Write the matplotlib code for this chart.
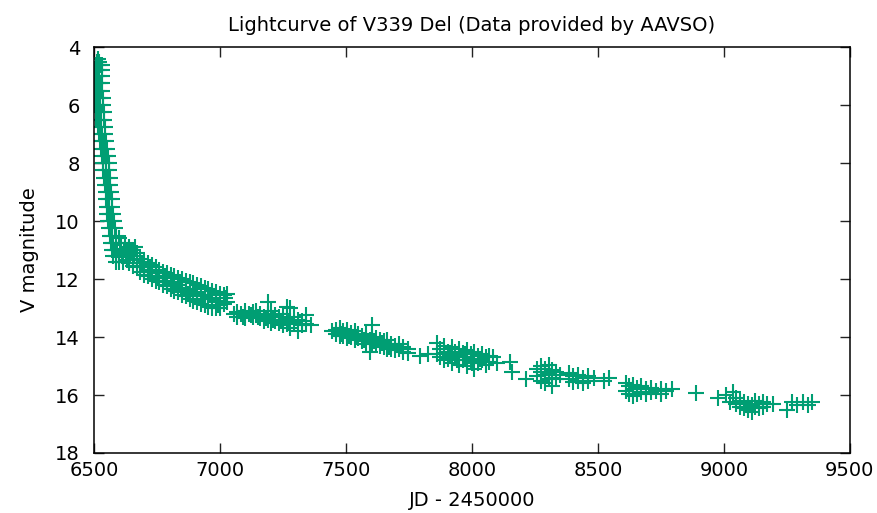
import numpy as np
import matplotlib
matplotlib.use("Agg")
import matplotlib.pyplot as plt

# --- data (JD - 2450000, V mag) ---
# fast decline after the peak
decline = [
    (6516, 4.4), (6512, 4.5), (6522, 4.5),
    (6508, 4.6), (6516, 4.6), (6524, 4.6), (6532, 4.6),
    (6506, 4.8), (6514, 4.8), (6522, 4.8), (6532, 4.8),
    (6506, 5.0), (6514, 5.0), (6522, 5.0), (6532, 5.0),
    (6508, 5.25), (6516, 5.25), (6524, 5.25), (6534, 5.25),
    (6506, 5.5), (6514, 5.5), (6522, 5.5), (6534, 5.5),
    (6507, 5.75), (6515, 5.75), (6523, 5.75), (6536, 5.75),
    (6506, 6.0), (6514, 6.0), (6524, 6.0), (6538, 6.0),
    (6508, 6.25), (6516, 6.25), (6528, 6.25), (6540, 6.25),
    (6510, 6.5), (6520, 6.5), (6530, 6.5), (6542, 6.5),
    (6516, 6.75), (6528, 6.75), (6544, 6.75),
    (6520, 7.0), (6532, 7.0), (6546, 7.0),
    (6526, 7.25), (6538, 7.25), (6550, 7.25),
    (6530, 7.5), (6542, 7.5), (6554, 7.5),
    (6534, 7.75), (6546, 7.75), (6558, 7.75),
    (6536, 8.0), (6548, 8.0), (6560, 8.0),
    (6538, 8.25), (6550, 8.25), (6562, 8.25),
    (6541, 8.5), (6552, 8.5), (6564, 8.5),
    (6544, 8.75), (6555, 8.75), (6566, 8.75),
    (6547, 9.0), (6558, 9.0), (6569, 9.0),
    (6549, 9.25), (6560, 9.25), (6571, 9.25),
    (6551, 9.5), (6562, 9.5), (6574, 9.5),
    (6553, 9.75), (6565, 9.75), (6577, 9.75),
    (6556, 10.0), (6568, 10.0), (6580, 10.0),
    (6559, 10.25), (6571, 10.25), (6583, 10.25),
    (6563, 10.5), (6574, 10.5), (6586, 10.5), (6600, 10.6),
    (6568, 10.75), (6578, 10.75), (6588, 10.75), (6606, 10.75), (6625, 10.75),
    (6572, 11.0), (6582, 11.0), (6592, 11.0), (6604, 11.0), (6618, 11.0),
    (6632, 11.0), (6648, 11.0), (6662, 10.9),
    (6578, 11.2), (6588, 11.2), (6598, 11.2), (6612, 11.2), (6626, 11.2),
    (6640, 11.2), (6660, 11.2),
    (6586, 11.4), (6600, 11.4), (6615, 11.4), (6630, 11.35),
]

# first season after the plateau
season1 = [
    (6640, 10.9), (6640, 11.2), (6640, 11.45),
    (6655, 11.0), (6655, 11.3), (6655, 11.55),
    (6670, 11.1), (6670, 11.35), (6670, 11.6),
    (6685, 11.3), (6685, 11.55), (6685, 11.75),
    (6700, 11.4), (6700, 11.6), (6700, 11.85),
    (6715, 11.45), (6715, 11.7), (6715, 11.9),
    (6730, 11.5), (6730, 11.75), (6730, 12.0),
    (6745, 11.6), (6745, 11.8), (6745, 12.05),
    (6760, 11.7), (6760, 11.9), (6760, 12.1),
    (6775, 11.75), (6775, 11.95), (6775, 12.2),
    (6790, 11.8), (6790, 12.05), (6790, 12.25),
    (6805, 11.85), (6805, 12.1), (6805, 12.35),
    (6820, 11.9), (6820, 12.15), (6820, 12.4),
    (6835, 11.95), (6835, 12.2), (6835, 12.45),
    (6850, 12.0), (6850, 12.3), (6850, 12.55),
    (6865, 12.05), (6865, 12.35), (6865, 12.6),
    (6880, 12.1), (6880, 12.4), (6880, 12.7),
    (6895, 12.15), (6895, 12.45), (6895, 12.75),
    (6910, 12.2), (6910, 12.5), (6910, 12.8),
    (6925, 12.25), (6925, 12.55), (6925, 12.85),
    (6940, 12.3), (6940, 12.6), (6940, 12.9),
    (6955, 12.35), (6955, 12.65), (6955, 12.95),
    (6970, 12.4), (6970, 12.7), (6970, 13.0),
    (6985, 12.45), (6985, 12.75), (6985, 13.0),
    (7000, 12.5), (7000, 12.8), (7000, 13.0),
    (7015, 12.55), (7015, 12.85),
    (7030, 12.5), (7030, 12.8),
    (6692, 11.45), (6722, 11.6), (6752, 11.95), (6782, 11.9),
    (6812, 12.25), (6842, 12.1), (6872, 12.5), (6902, 12.35),
    (6932, 12.7), (6962, 12.55), (6992, 12.9), (7022, 12.65),
]

season2 = [
    (7055, 13.2), (7070, 13.15), (7070, 13.3), (7085, 13.2),
    (7100, 13.1), (7100, 13.25), (7100, 13.35), (7115, 13.2),
    (7130, 13.15), (7130, 13.3), (7145, 13.1), (7145, 13.25),
    (7160, 13.2), (7160, 13.35), (7175, 13.3), (7175, 13.45),
    (7190, 12.8), (7190, 13.2), (7190, 13.4),
    (7205, 13.1), (7205, 13.3), (7205, 13.5),
    (7220, 13.25), (7220, 13.45), (7235, 13.3), (7235, 13.5),
    (7250, 13.2), (7250, 13.4), (7250, 13.6),
    (7265, 12.95), (7265, 13.35), (7265, 13.55),
    (7280, 13.0), (7280, 13.45), (7280, 13.7),
    (7295, 13.3), (7295, 13.5), (7310, 13.4), (7310, 13.8),
    (7325, 13.45), (7325, 13.6), (7340, 13.25), (7340, 13.55),
    (7360, 13.6), (7092, 13.3), (7122, 13.25), (7152, 13.3),
    (7182, 13.35), (7212, 13.4), (7242, 13.45), (7272, 13.5),
]

season3 = [
    (7445, 13.8), (7460, 13.75), (7460, 13.9),
    (7475, 13.7), (7475, 13.85), (7475, 13.95),
    (7490, 13.8), (7490, 13.95),
    (7505, 13.75), (7505, 13.9), (7505, 14.05),
    (7520, 13.85), (7520, 14.0),
    (7535, 13.8), (7535, 13.95), (7535, 14.1),
    (7550, 13.9), (7550, 14.05), (7565, 13.95), (7565, 14.15),
    (7580, 13.9), (7580, 14.05), (7580, 14.25),
    (7595, 14.1), (7595, 14.5),
    (7605, 13.6), (7605, 14.0), (7605, 14.2),
    (7620, 14.05), (7620, 14.25), (7635, 14.1), (7635, 14.3),
    (7650, 14.15), (7650, 14.35),
    (7665, 14.1), (7665, 14.3), (7665, 14.4),
    (7680, 14.25), (7680, 14.4), (7695, 14.3), (7695, 14.45),
    (7710, 14.25), (7710, 14.4), (7725, 14.35), (7725, 14.5),
    (7745, 14.4), (7745, 14.55),
    (7795, 14.65), (7825, 14.6),
    (7483, 13.9), (7512, 13.95), (7543, 14.0), (7572, 14.1),
    (7612, 14.15), (7642, 14.2), (7672, 14.35),
]

season4 = [
    (7860, 14.2), (7860, 14.6), (7875, 14.4), (7875, 14.7),
    (7890, 14.3), (7890, 14.55), (7890, 14.8),
    (7905, 14.5), (7905, 14.75),
    (7920, 14.35), (7920, 14.6), (7920, 14.9),
    (7935, 14.5), (7935, 14.7),
    (7950, 14.4), (7950, 14.65), (7950, 14.95),
    (7965, 14.55), (7965, 14.8),
    (7980, 14.45), (7980, 14.7), (7980, 15.0),
    (7995, 14.6), (7995, 14.85),
    (8010, 14.5), (8010, 14.75), (8010, 15.1),
    (8025, 14.65), (8025, 14.9), (8040, 14.6), (8040, 14.8),
    (8055, 14.7), (8055, 14.95), (8070, 14.65), (8070, 14.85),
    (8085, 14.7), (8100, 14.9), (8150, 14.85), (8160, 15.2),
    (8215, 15.45), (7912, 14.65), (7942, 14.8), (7972, 14.6),
    (8002, 14.9), (8032, 14.75),
]

season5 = [
    (8260, 15.1), (8260, 15.35),
    (8275, 15.0), (8275, 15.2), (8275, 15.5),
    (8290, 15.1), (8290, 15.3), (8290, 15.6),
    (8305, 14.95), (8305, 15.25), (8305, 15.45),
    (8320, 15.15), (8320, 15.4), (8320, 15.7),
    (8335, 15.2), (8335, 15.45), (8350, 15.3),
    (8385, 15.25), (8385, 15.45), (8400, 15.35), (8400, 15.55),
    (8420, 15.3), (8420, 15.5), (8440, 15.4), (8440, 15.6),
    (8460, 15.35), (8460, 15.5), (8485, 15.4),
    (8525, 15.5), (8545, 15.4),
]

season6 = [
    (8610, 15.6), (8610, 15.85), (8625, 15.7), (8625, 15.95),
    (8640, 15.65), (8640, 15.8), (8640, 16.05),
    (8655, 15.75), (8655, 15.95), (8670, 15.7), (8670, 15.9),
    (8690, 15.8), (8690, 15.95), (8710, 15.75), (8710, 15.9),
    (8730, 15.85), (8750, 15.8), (8750, 15.95), (8770, 15.85),
    (8795, 15.8), (8890, 15.93),
]

season7 = [
    (8975, 16.1), (9010, 16.0), (9025, 16.25), (9035, 15.9),
    (9050, 16.1), (9050, 16.3), (9065, 16.2), (9065, 16.4),
    (9080, 16.25), (9080, 16.45), (9095, 16.3), (9095, 16.5),
    (9110, 16.35), (9110, 16.6), (9125, 16.2), (9125, 16.4),
    (9140, 16.3), (9140, 16.45), (9155, 16.25), (9155, 16.4),
    (9170, 16.3), (9195, 16.3),
]

season8 = [
    (9250, 16.5), (9270, 16.25), (9290, 16.35),
    (9313, 16.25), (9333, 16.35), (9348, 16.25),
]

x_ticks = [6500, 7000, 7500, 8000, 8500, 9000, 9500]
y_ticks = [4, 6, 8, 10, 12, 14, 16, 18]

# ---------------------------------------------------------------------------
obs = np.array(decline + season1 + season2 + season3 + season4
               + season5 + season6 + season7 + season8, dtype=float)

plt.rcParams["font.family"] = ["DejaVu Sans"]
fig = plt.figure(figsize=(8.77, 5.13), dpi=100)
ax = fig.add_axes([0.107, 0.117, 0.862, 0.791])

ax.plot(obs[:, 0], obs[:, 1], "+", color="#009e73", ms=11, mew=1.5)

ax.set_xlim(6500, 9500)
ax.set_ylim(18, 4)
ax.set_xticks(x_ticks)
ax.set_yticks(y_ticks)
ax.tick_params(direction="in", length=7, width=1, top=True, right=True,
               labelsize=14, color="#222222")
ax.tick_params(axis="x", pad=6)
ax.tick_params(axis="y", pad=10)
for sp in ax.spines.values():
    sp.set_linewidth(1.1)

ax.set_title("Lightcurve of V339 Del (Data provided by AAVSO)", fontsize=14, pad=12)
ax.set_xlabel("JD - 2450000", fontsize=14, labelpad=8)
ax.set_ylabel("V magnitude", fontsize=14, labelpad=12)

fig.savefig("out.png", dpi=100)
